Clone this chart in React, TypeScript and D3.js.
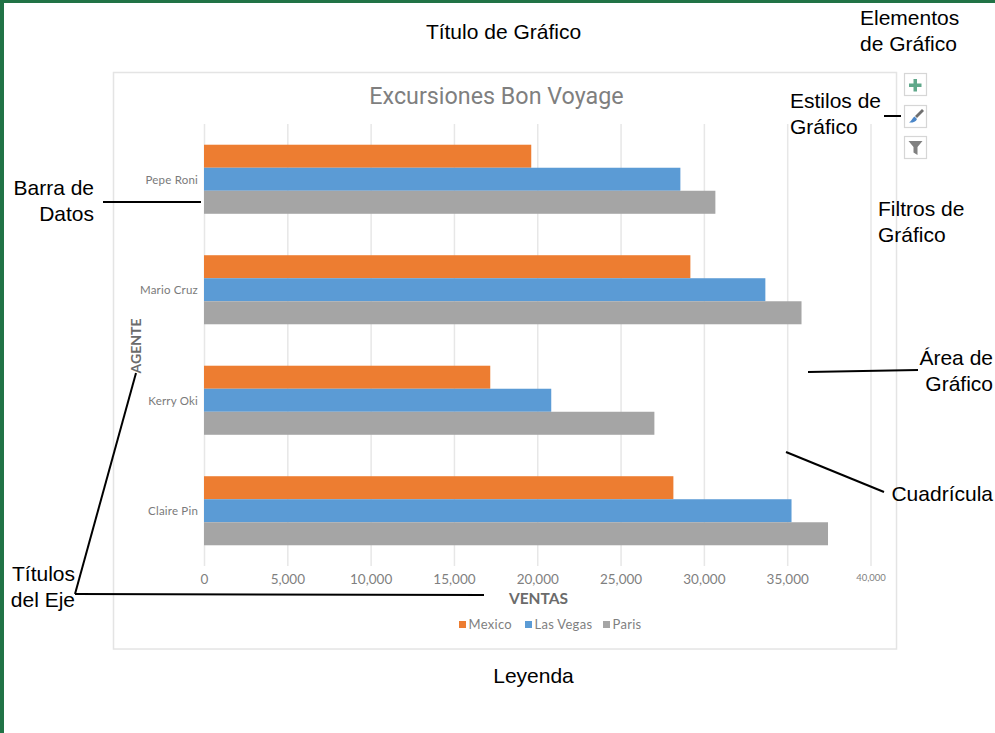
import React, { useEffect, useRef } from 'react';
import * as d3 from 'd3';

const agents = ['Pepe Roni', 'Mario Cruz', 'Kerry Oki', 'Claire Pin'];
const seriesNames = ['Mexico', 'Las Vegas', 'Paris'];
const mexico = [19640, 29190, 17180, 28170];
const lasVegas = [28590, 33690, 20840, 35260];
const paris = [30690, 35860, 27030, 37450];
const xTicks = [0, 5000, 10000, 15000, 20000, 25000, 30000, 35000, 40000];
const colors = ['#ed7d31', '#5b9bd5', '#a5a5a5'];

// callouts around the chart: [text lines, x, first baseline, anchor]
const callouts: [string[], number, number, string][] = [
  [['Título de Gráfico'], 503.5, 39, 'middle'],
  [['Elementos', 'de Gráfico'], 860, 25, 'start'],
  [['Estilos de', 'Gráfico'], 790, 108, 'start'],
  [['Filtros de', 'Gráfico'], 878, 216, 'start'],
  [['Barra de', 'Datos'], 94, 195, 'end'],
  [['Área de', 'Gráfico'], 993, 365, 'end'],
  [['Cuadrícula'], 993, 501, 'end'],
  [['Títulos', 'del Eje'], 75, 581, 'end'],
  [['Leyenda'], 533.5, 683, 'middle'],
];

const leaderLines = [
  [103, 202, 201, 202],
  [884, 116, 901, 116],
  [808, 372, 918, 370],
  [786, 452, 884, 492],
  [75, 594, 484, 595],
  [75, 594, 136, 373],
];

const chartFont = 'Lato, "Open Sans", sans-serif';

const App = () => {
  const svgRef = useRef<SVGSVGElement>(null);

  useEffect(() => {
    const svg = d3.select(svgRef.current);
    svg.selectAll('*').remove();

    const width = 995;
    const height = 733;
    const plot = { left: 204, right: 870.5, top: 124, bottom: 566 };

    // page frame
    svg.append('rect').attr('width', width).attr('height', height).attr('fill', '#fff');
    svg.append('rect').attr('width', width).attr('height', 3).attr('fill', '#217346');
    svg.append('rect').attr('width', 4).attr('height', height).attr('fill', '#217346');

    // chart area
    svg.append('rect')
      .attr('x', 113.5).attr('y', 72.5)
      .attr('width', 783).attr('height', 576.5)
      .attr('fill', '#fff')
      .attr('stroke', '#e4e4e4')
      .attr('stroke-width', 1.5);

    const x = d3.scaleLinear().domain([0, 40000]).range([plot.left, plot.right]);
    const y = d3.scaleBand()
      .domain(agents)
      .range([plot.top, plot.bottom])
      .paddingInner(0.375)
      .paddingOuter(0.1875);
    const ySeries = d3.scaleBand().domain(seriesNames).range([0, y.bandwidth()]);

    const xAxis = svg.append('g')
      .attr('transform', `translate(0,${plot.bottom})`)
      .call(d3.axisBottom(x).tickValues(xTicks).tickFormat(d3.format(',')).tickSize(-(plot.bottom - plot.top)).tickPadding(8));
    xAxis.select('.domain').remove();
    xAxis.selectAll('line').attr('stroke', '#e7e7e7').attr('stroke-width', 1.5);
    xAxis.selectAll('text')
      .attr('font-family', chartFont)
      .attr('font-size', (d: any) => (d === 40000 ? 9.5 : 13.5))
      .attr('fill', '#7f7f7f');

    const values = [mexico, lasVegas, paris];
    seriesNames.forEach((name, s) => {
      svg.append('g')
        .selectAll('rect')
        .data(agents)
        .enter()
        .append('rect')
        .attr('x', x(0))
        .attr('y', d => (y(d) as number) + (ySeries(name) as number))
        .attr('width', (d, i) => x(values[s][i]) - x(0))
        .attr('height', ySeries.bandwidth())
        .attr('fill', colors[s]);
    });

    const yAxis = svg.append('g')
      .attr('transform', `translate(${plot.left},1)`)
      .call(d3.axisLeft(y).tickSize(0).tickPadding(6));
    yAxis.select('.domain').remove();
    yAxis.selectAll('text')
      .attr('font-family', chartFont)
      .attr('font-size', 11.5)
      .attr('letter-spacing', 0.2)
      .attr('fill', '#7a7a7a');

    svg.append('text')
      .attr('x', 496.5).attr('y', 104)
      .attr('text-anchor', 'middle')
      .attr('font-family', 'Roboto, sans-serif')
      .attr('font-size', 23.3)
      .attr('fill', '#7f7f7f')
      .text('Excursiones Bon Voyage');

    svg.append('text')
      .attr('x', 538.5).attr('y', 604)
      .attr('text-anchor', 'middle')
      .attr('font-family', chartFont)
      .attr('font-size', 15.5)
      .attr('font-weight', 700)
      .attr('fill', '#6b6b6b')
      .text('VENTAS');

    svg.append('text')
      .attr('transform', 'translate(141,346) rotate(-90)')
      .attr('text-anchor', 'middle')
      .attr('font-family', chartFont)
      .attr('font-size', 14)
      .attr('font-weight', 700)
      .attr('fill', '#6b6b6b')
      .text('AGENTE');

    // legend
    const legendX = [459, 525, 603];
    seriesNames.forEach((name, i) => {
      svg.append('rect')
        .attr('x', legendX[i]).attr('y', 621)
        .attr('width', 7).attr('height', 7)
        .attr('fill', colors[i]);
      svg.append('text')
        .attr('x', legendX[i] + 9.5).attr('y', 629)
        .attr('font-family', chartFont)
        .attr('font-size', 13)
        .attr('letter-spacing', 0.3)
        .attr('fill', '#7f7f7f')
        .text(name);
    });

    // buttons next to the chart
    [73, 105, 136].forEach(top => {
      svg.append('rect')
        .attr('x', 904.5).attr('y', top + 0.5)
        .attr('width', 22).attr('height', 22)
        .attr('fill', '#fff')
        .attr('stroke', '#d6d6d6')
        .attr('stroke-width', 1.2);
    });
    svg.append('path')
      .attr('d', 'M913.5 79h3.5v4.5h4.5v3.5h-4.5v4.5h-3.5v-4.5h-4.5v-3.5h4.5z')
      .attr('fill', '#5fa88a');
    svg.append('path')
      .attr('d', 'M922 109 L924 111 L917 118 L915 116 Z')
      .attr('fill', '#6f6f6f');
    svg.append('path')
      .attr('d', 'M914.5 116.5 L917 119 C916 122 912 123 909 122.5 C911.5 121 912.5 118 914.5 116.5 Z')
      .attr('fill', '#4a86c8');
    svg.append('path')
      .attr('d', 'M908.5 141h14l-5 6v8l-4-2.5v-5.5z')
      .attr('fill', '#808080');

    // leader lines
    svg.append('g')
      .selectAll('line')
      .data(leaderLines)
      .enter()
      .append('line')
      .attr('x1', d => d[0]).attr('y1', d => d[1])
      .attr('x2', d => d[2]).attr('y2', d => d[3])
      .attr('stroke', '#000')
      .attr('stroke-width', 2);

    callouts.forEach(([lines, cx, cy, anchor]) => {
      const t = svg.append('text')
        .attr('text-anchor', anchor)
        .attr('font-family', '"Liberation Sans", Arial, sans-serif')
        .attr('font-size', 21)
        .attr('fill', '#000');
      lines.forEach((line, i) => {
        t.append('tspan').attr('x', cx).attr('y', cy + i * 26).text(line);
      });
    });
  }, []);

  return (
    <svg
      ref={svgRef}
      width={995}
      height={733}
      style={{ position: 'absolute', left: 0, top: 0, display: 'block' }}
    ></svg>
  );
};

export default App;
